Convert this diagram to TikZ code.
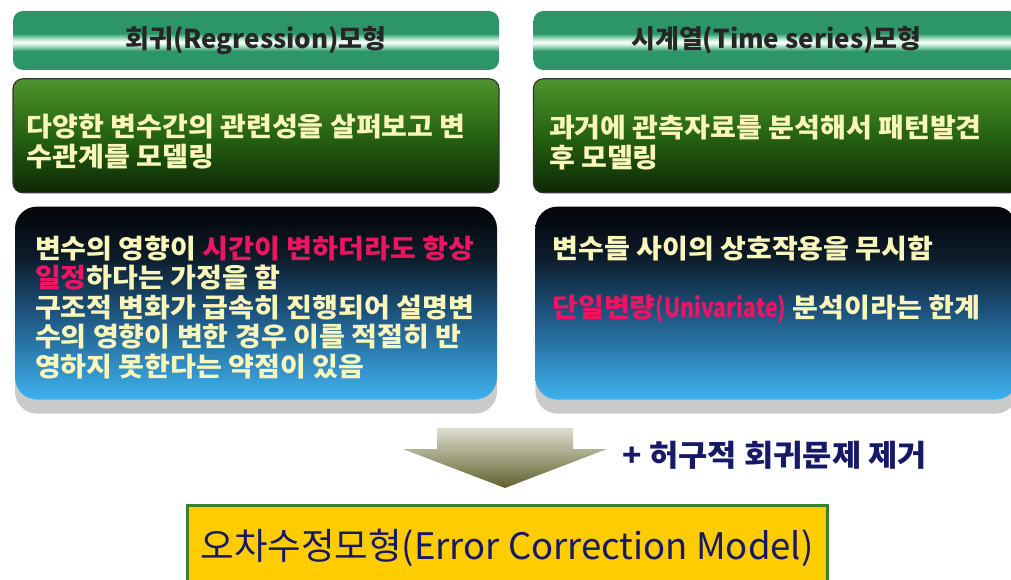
\documentclass[tikz,border=0pt]{standalone}
\usepackage{fontspec}
\setmainfont{Noto Sans CJK KR}
\newfontfamily\krwide{Noto Sans CJK KR}[FakeStretch=1.06]
\usetikzlibrary{positioning,shadows}

\definecolor{hdrteal}{RGB}{44,150,104}
\definecolor{hdrpale}{RGB}{190,235,210}
\definecolor{grntop}{RGB}{78,148,44}
\definecolor{grnmid}{RGB}{38,98,18}
\definecolor{grnbot}{RGB}{12,40,6}
\definecolor{deepblack}{RGB}{4,4,8}
\definecolor{deepblue1}{RGB}{12,28,42}
\definecolor{deepblue2}{RGB}{28,82,124}
\definecolor{deepblue3}{RGB}{62,178,240}
\definecolor{cream}{RGB}{250,245,185}
\definecolor{hotpink}{RGB}{238,20,98}
\definecolor{navy}{RGB}{22,24,104}
\definecolor{arrtop}{RGB}{222,222,206}
\definecolor{arrbot}{RGB}{96,96,46}
\definecolor{ecmyellow}{RGB}{255,204,0}
\definecolor{ecmgreen}{RGB}{58,128,48}

\pgfdeclareverticalshading{hdrshade}{100bp}{color(0bp)=(hdrteal); color(25bp)=(hdrteal);
  color(41bp)=(hdrteal); color(46bp)=(hdrpale); color(48.5bp)=(white); color(51bp)=(hdrpale);
  color(56bp)=(hdrteal); color(75bp)=(hdrteal); color(100bp)=(hdrteal)}
\pgfdeclareverticalshading{deepshade}{100bp}{color(0bp)=(deepblue3); color(25bp)=(deepblue3);
  color(48bp)=(deepblue2); color(62bp)=(deepblue1); color(75bp)=(deepblack); color(100bp)=(deepblack)}

\begin{document}
\begin{tikzpicture}[x=1pt,y=1pt,
    header/.style={shading=hdrshade, rounded corners=10pt, minimum width=486pt, minimum height=59pt,
      inner sep=0pt, text=black!85, font=\fontsize{26}{26}\selectfont\bfseries},
    greenbox/.style={top color=grntop, bottom color=grnbot, middle color=grnmid, rounded corners=10pt,
      draw=black!80, line width=1.2pt, minimum width=486pt, minimum height=114pt},
    deepbox/.style={shading=deepshade, rounded corners=22pt, minimum width=482pt, minimum height=193pt,
      drop shadow={shadow xshift=0pt, shadow yshift=-14pt, opacity=0.35, fill=black!60}},
    boxtext/.style={anchor=north west, inner sep=0pt, align=left, text=cream,
      font=\krwide\fontsize{26.5}{29.5}\selectfont\bfseries},
    ecmbox/.style={fill=ecmyellow, draw=ecmgreen, line width=3pt, minimum width=640pt, minimum height=86pt,
      text=navy, font=\fontsize{36.5}{36.5}\selectfont}]

    \useasboundingbox (0,0) rectangle (1011,579);

    % two model columns
    \node[header] (hdrL) at (256,538.5) {회귀(Regression)모형};
    \node[header] (hdrR) [right=34pt of hdrL] {시계열(Time series)모형};

    \node[greenbox] (grnL) [below=8pt of hdrL] {};
    \node[greenbox] (grnR) [below=8pt of hdrR] {};

    \node[deepbox] (deepL) [below=13pt of grnL] {};
    \node[deepbox] (deepR) [below=13pt of grnR] {};

    \node[boxtext] (grnLtxt) at ([xshift=14pt,yshift=-36pt]grnL.north west)
        {다양한 변수간의 관련성을 살펴보고 변\\수관계를 모델링};
    \node[boxtext] (grnRtxt) at ([xshift=16pt,yshift=-37pt]grnR.north west)
        {과거에 관측자료를 분석해서 패턴발견\\후 모델링};

    \node[boxtext] (deepLtxt) at ([xshift=20pt,yshift=-29pt]deepL.north west)
        {변수의 영향이 \textcolor{hotpink}{시간이 변하더라도 항상}\\
         \textcolor{hotpink}{일정}하다는 가정을 함\\
         구조적 변화가 급속히 진행되어 설명변\\
         수의 영향이 변한 경우 이를 적절히 반\\
         영하지 못한다는 약점이 있음};
    \node[boxtext] (deepRtxt) at ([xshift=17pt,yshift=-29pt]deepR.north west)
        {변수들 사이의 상호작용을 무시함\\ \mbox{}\\
         \textcolor{hotpink}{단일변량\scalebox{0.76}[1]{(Univariate)}} 분석이라는 한계};

    % merge arrow
    \shade[top color=arrtop, bottom color=arrbot]
        (437,151) -- (573,151) -- (573,130) -- (607,130) -- (505,91) -- (403,130) -- (437,130) -- cycle;
    \node[text=navy, font=\krwide\fontsize{30}{30}\selectfont\bfseries, anchor=west] (spur) at (619,124)
        {+ 허구적 회귀문제 제거};

    \node[ecmbox] (ecm) at (507,31) {오차수정모형(Error Correction Model)};
\end{tikzpicture}
\end{document}
